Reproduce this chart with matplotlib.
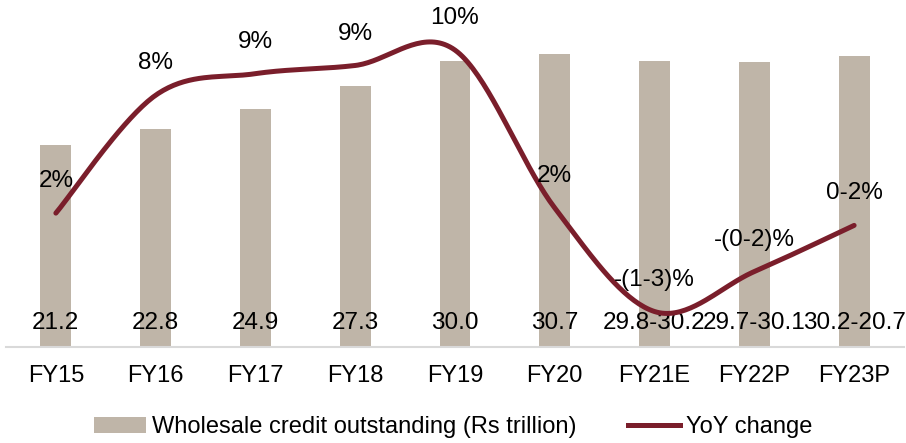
import matplotlib

matplotlib.use("Agg")
import matplotlib.pyplot as plt
import numpy as np
from matplotlib.lines import Line2D
from matplotlib.patches import Patch

plt.rcParams["font.family"] = ["Liberation Sans", "DejaVu Sans"]

categories = ["FY15", "FY16", "FY17", "FY18", "FY19", "FY20", "FY21E", "FY22P", "FY23P"]
credit = [21.2, 22.8, 24.9, 27.3, 30.0, 30.7, 30.0, 29.9, 30.45]
credit_labels = ["21.2", "22.8", "24.9", "27.3", "30.0", "30.7", "29.8-30.2", "29.7-30.1", "30.2-20.7"]
yoy = [1.9, 7.65, 8.7, 9.1, 9.85, 2.15, -2.9, -0.95, 1.3]
yoy_labels = ["2%", "8%", "9%", "9%", "10%", "2%", "-(1-3)%", "-(0-2)%", "0-2%"]

BAR_COLOR = "#BFB5A8"
LINE_COLOR = "#7A1E2B"


def smooth_curve(xs, ys, steps=40):
    """Excel-style smoothed line: cubic Bezier through each pair of points."""
    pts = np.column_stack([xs, ys]).astype(float)
    padded = np.vstack([pts[0], pts, pts[-1]])
    out = []
    t = np.linspace(0.0, 1.0, steps)[:, None]
    for i in range(len(pts) - 1):
        p0, p1, p2, p3 = padded[i], padded[i + 1], padded[i + 2], padded[i + 3]
        b1 = p1 + (p2 - p0) / 6.0
        b2 = p2 - (p3 - p1) / 6.0
        seg = ((1 - t) ** 3) * p1 + 3 * ((1 - t) ** 2) * t * b1 + 3 * (1 - t) * t ** 2 * b2 + t ** 3 * p2
        out.append(seg if i == 0 else seg[1:])
    curve = np.vstack(out)
    return curve[:, 0], curve[:, 1]


fig = plt.figure(figsize=(9.06, 4.43), dpi=100)
ax = fig.add_axes([0.0066, 0.2167, 0.9912, 0.754])
x = np.arange(len(categories))

ax.bar(x, credit, width=0.31, color=BAR_COLOR, zorder=1)
ax.set_xlim(-0.5, len(categories) - 0.5)
ax.set_ylim(0, 35)
for xi, lab in zip(x, credit_labels):
    ax.text(xi, 2.5, lab, ha="center", va="center", fontsize=17.5, color="black", zorder=5)

ax.set_yticks([])
ax.set_xticks(x)
ax.set_xticklabels(categories, fontsize=17)
ax.tick_params(axis="x", length=0, pad=13)
for side in ["top", "right", "left"]:
    ax.spines[side].set_visible(False)
ax.spines["bottom"].set_color("#D9D9D9")
ax.spines["bottom"].set_linewidth(1.5)

ax2 = ax.twinx()
sx, sy = smooth_curve(x, yoy)
ax2.plot(sx, sy, color=LINE_COLOR, linewidth=3.6, solid_capstyle="round", zorder=3)
ax2.set_ylim(-4.63, 11.66)
ax2.set_yticks([])
for side in ["top", "right", "left", "bottom"]:
    ax2.spines[side].set_visible(False)
for xi, yi, lab in zip(x, yoy, yoy_labels):
    ax2.annotate(lab, (xi, yi), xytext=(0, 23), textcoords="offset points",
                 ha="center", va="center", fontsize=17.5, color="black")

handles = [
    Patch(facecolor=BAR_COLOR, edgecolor="none", label="Wholesale credit outstanding (Rs trillion)"),
    Line2D([0], [0], color=LINE_COLOR, linewidth=3.6, label="YoY change"),
]
fig.legend(handles=handles, loc="center", bbox_to_anchor=(0.5, 0.036), ncol=2, frameon=False,
           fontsize=17, handlelength=2.2, handletextpad=0.25, columnspacing=2.2)

fig.savefig("out.png", dpi=100)
